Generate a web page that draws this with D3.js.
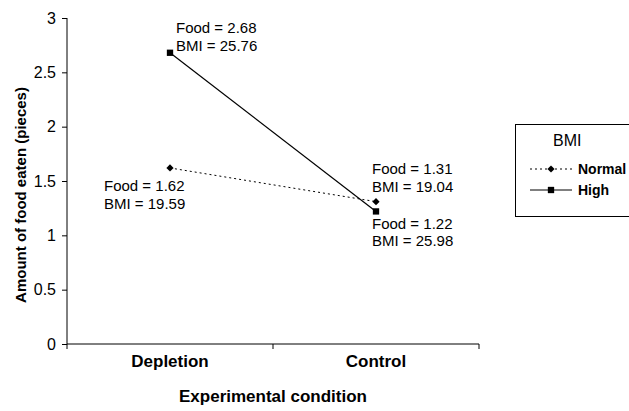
<!DOCTYPE html>
<html lang="en">
<head>
  <meta charset="utf-8">
  <title>Food eaten by condition</title>
  <script src="https://d3js.org/d3.v7.min.js"></script>
  <style>
    body { margin: 0; background: #fff; }
    text { font-family: Arial, "Liberation Sans", sans-serif; fill: #000; }
  </style>
</head>
<body>
<script>
  // data
  var categories = ["Depletion", "Control"];
  var normalFood = [1.62, 1.31];
  var highFood = [2.68, 1.22];
  var normalBMI = [19.59, 19.04];
  var highBMI = [25.76, 25.98];
  var yTicks = [0, 0.5, 1, 1.5, 2, 2.5, 3];

  var width = 629, height = 411;
  var plotL = 67, plotR = 479, plotT = 18, plotB = 344;

  var svg = d3.select("body").append("svg")
      .attr("width", width).attr("height", height);

  var x = d3.scaleBand().domain(categories).range([plotL, plotR]);
  var y = d3.scaleLinear().domain([0, 3]).range([plotB, plotT]);

  // y axis
  var yAxis = svg.append("g").attr("transform", "translate(" + plotL + ",0)")
      .call(d3.axisLeft(y).tickValues(yTicks).tickFormat(d3.format("")).tickSize(5).tickPadding(6));
  yAxis.selectAll("text").style("font-size", "16px");
  yAxis.select(".domain").attr("d", "M0," + plotT + "V" + plotB);

  // x axis: ticks at band edges
  var xAxis = svg.append("g").attr("transform", "translate(0," + plotB + ")");
  xAxis.append("line").attr("x1", plotL).attr("x2", plotR).attr("stroke", "#000");
  xAxis.selectAll(".edge").data([plotL, x("Control"), plotR]).enter().append("line")
      .attr("x1", function(d){ return d; }).attr("x2", function(d){ return d; })
      .attr("y1", 0).attr("y2", 5).attr("stroke", "#000");
  xAxis.selectAll(".cat").data(categories).enter().append("text")
      .attr("x", function(d){ return x(d) + x.bandwidth() / 2; })
      .attr("y", 23)
      .attr("text-anchor", "middle")
      .style("font-size", "17px").style("font-weight", "bold")
      .text(function(d){ return d; });
  svg.selectAll(".domain, .tick line").attr("stroke", "#000");

  // axis titles
  svg.append("text")
      .attr("x", (plotL + plotR) / 2).attr("y", 402)
      .attr("text-anchor", "middle")
      .style("font-size", "17px").style("font-weight", "bold")
      .text("Experimental condition");
  svg.append("text")
      .attr("transform", "translate(26,195) rotate(-90)")
      .attr("text-anchor", "middle")
      .style("font-size", "15px").style("font-weight", "bold")
      .text("Amount of food eaten (pieces)");

  var cx = function(i){ return x(categories[i]) + x.bandwidth() / 2; };
  var line = d3.line().x(function(d, i){ return cx(i); }).y(function(d){ return y(d); });

  // series
  svg.append("path").datum(normalFood).attr("d", line)
      .attr("fill", "none").attr("stroke", "#000").attr("stroke-width", 1)
      .attr("stroke-dasharray", "2,3");
  svg.append("path").datum(highFood).attr("d", line)
      .attr("fill", "none").attr("stroke", "#000").attr("stroke-width", 1.2);

  var diamond = d3.symbol().type(d3.symbolSquare).size(26);
  var square = d3.symbol().type(d3.symbolSquare).size(40);

  svg.selectAll(".nm").data(normalFood).enter().append("path")
      .attr("d", diamond)
      .attr("transform", function(d, i){ return "translate(" + cx(i) + "," + y(d) + ") rotate(45)"; });
  svg.selectAll(".hm").data(highFood).enter().append("path")
      .attr("d", square)
      .attr("transform", function(d, i){ return "translate(" + cx(i) + "," + y(d) + ")"; });

  // point labels, offsets from their points
  var labelOffsets = {
    normal: [[-66, 23.5], [-4, -27.5]],
    high: [[6, -19.5], [-4, 17.5]]
  };
  function addLabels(food, bmi, offs) {
    food.forEach(function(v, i) {
      var t = svg.append("text")
          .attr("x", cx(i) + offs[i][0])
          .attr("y", y(v) + offs[i][1])
          .style("font-size", "15px");
      t.append("tspan").text("Food = " + d3.format(".2f")(v));
      t.append("tspan").attr("x", cx(i) + offs[i][0]).attr("dy", 17.5)
          .text("BMI = " + d3.format(".2f")(bmi[i]));
    });
  }
  addLabels(normalFood, normalBMI, labelOffsets.normal);
  addLabels(highFood, highBMI, labelOffsets.high);

  // legend
  var lg = svg.append("g");
  lg.append("rect").attr("x", 515.5).attr("y", 124.5).attr("width", 130).attr("height", 92)
      .attr("fill", "#fff").attr("stroke", "#000");
  lg.append("text").attr("x", 553).attr("y", 146).style("font-size", "16px").text("BMI");
  var items = [
    { name: "Normal", dash: "2,3", sym: diamond, rot: 45, y: 169 },
    { name: "High", dash: null, sym: square, rot: 0, y: 190 }
  ];
  items.forEach(function(it) {
    lg.append("line").attr("x1", 530).attr("x2", 572).attr("y1", it.y).attr("y2", it.y)
        .attr("stroke", "#000").attr("stroke-dasharray", it.dash);
    lg.append("path").attr("d", it.sym)
        .attr("transform", "translate(551," + it.y + ") rotate(" + it.rot + ")");
    lg.append("text").attr("x", 578).attr("y", it.y + 5)
        .style("font-size", "14px").style("font-weight", "bold").text(it.name);
  });
</script>
</body>
</html>
